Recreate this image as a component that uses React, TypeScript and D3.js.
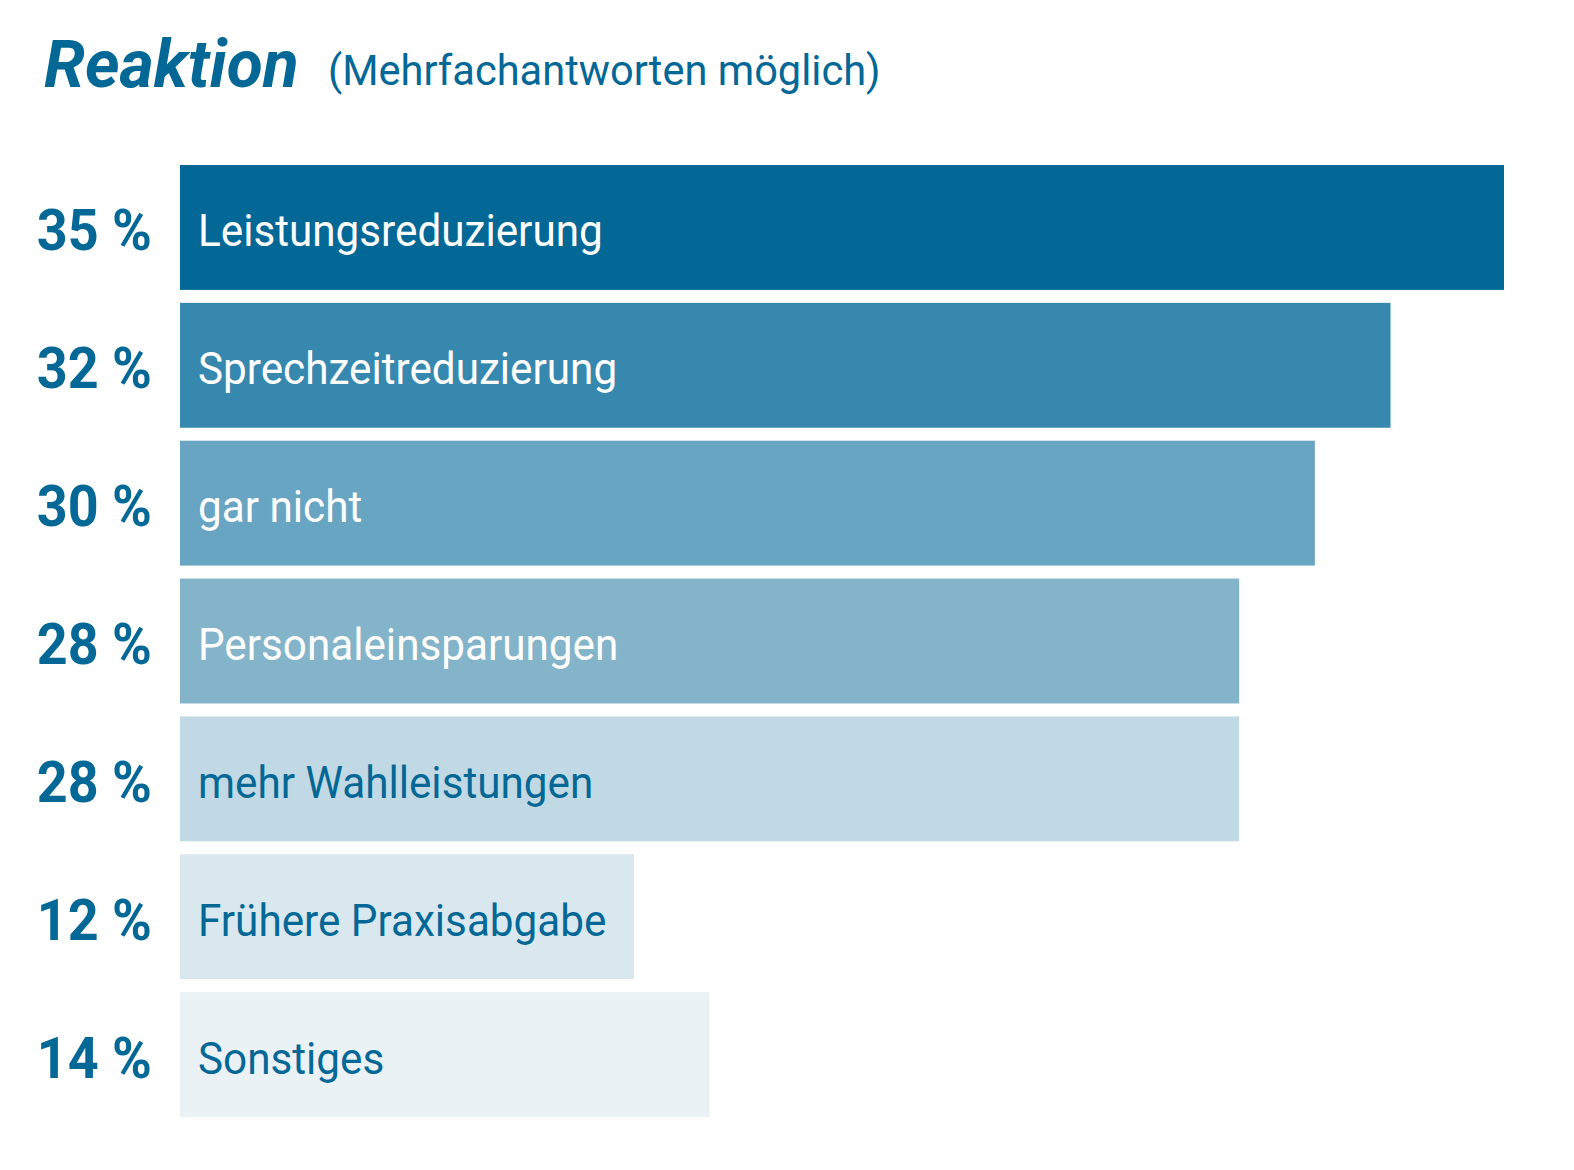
import { useRef, useEffect } from 'react';
import * as d3 from 'd3';

const categories = [
  'Leistungsreduzierung',
  'Sprechzeitreduzierung',
  'gar nicht',
  'Personaleinsparungen',
  'mehr Wahlleistungen',
  'Frühere Praxisabgabe',
  'Sonstiges',
];
const values = [35, 32, 30, 28, 28, 12, 14];
const barColors = ['#036896', '#3788ae', '#68a5c2', '#83b4ca', '#c1d9e4', '#d9e8ef', '#eaf2f6'];
const textColors = ['#ffffff', '#ffffff', '#ffffff', '#ffffff', '#036896', '#036896', '#036896'];

const title = 'Reaktion';
const subtitle = '(Mehrfachantworten möglich)';

const width = 1574;
const height = 1170;
const blue = '#036896';
const font = 'Roboto, "DejaVu Sans", sans-serif';

// squeeze text horizontally around its anchor x
const squeeze = (x0: number, k: number) => `translate(${x0},0) scale(${k},1) translate(${-x0},0)`;

const App = () => {
  const svgRef = useRef(null);

  useEffect(() => {
    document.body.style.margin = '0';
    const svg = d3.select(svgRef.current);
    svg.selectAll('*').remove();

    const x = d3.scaleLinear().domain([0, 35]).range([180, 1504]);
    const y = d3
      .scaleBand<number>()
      .domain(d3.range(categories.length))
      .range([165, 1117])
      .paddingInner(0.094)
      .paddingOuter(0);

    // title
    svg
      .append('text')
      .attr('x', 44)
      .attr('y', 87)
      .attr('font-family', font)
      .attr('font-size', 66)
      .attr('font-weight', 700)
      .attr('font-style', 'italic')
      .attr('fill', blue)
      .text(title);

    svg
      .append('text')
      .attr('x', 328)
      .attr('y', 85)
      .attr('font-family', font)
      .attr('font-size', 42)
      .attr('fill', blue)
      .attr('transform', squeeze(328, 0.99))
      .text(subtitle);

    const rows = svg
      .selectAll('g.row')
      .data(values)
      .join('g')
      .attr('class', 'row');

    rows
      .append('rect')
      .attr('x', x(0))
      .attr('y', (_, i) => y(i) as number)
      .attr('width', (d) => x(d) - x(0))
      .attr('height', y.bandwidth())
      .attr('fill', (_, i) => barColors[i]);

    // category labels inside bars
    rows
      .append('text')
      .attr('x', 198)
      .attr('y', (_, i) => (y(i) as number) + y.bandwidth() / 2 + 19)
      .attr('font-family', font)
      .attr('font-size', 44)
      .attr('fill', (_, i) => textColors[i])
      .attr('transform', squeeze(198, 0.96))
      .text((_, i) => categories[i]);

    // percentage labels
    rows
      .append('text')
      .attr('x', 152)
      .attr('y', (_, i) => (y(i) as number) + y.bandwidth() / 2 + 23)
      .attr('text-anchor', 'end')
      .attr('font-family', font)
      .attr('font-size', 58)
      .attr('font-weight', 700)
      .attr('fill', blue)
      .attr('transform', squeeze(152, 0.93))
      .text((d) => `${d} %`);
  }, []);

  return <svg ref={svgRef} width={width} height={height} style={{ display: 'block' }} />;
};

export default App;
